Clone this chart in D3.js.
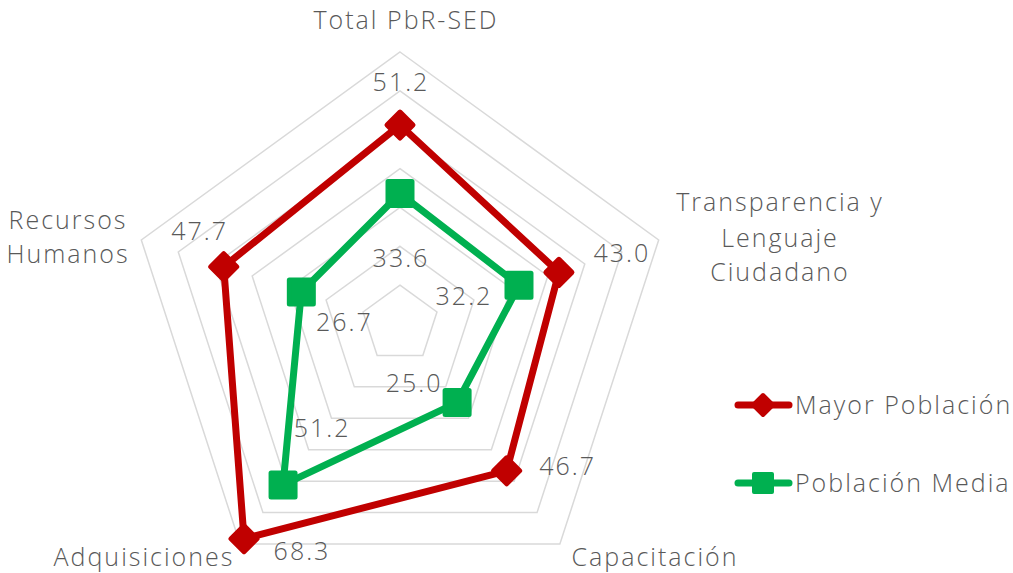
<!DOCTYPE html>
<html>
<head>
<meta charset="utf-8">
<script src="https://cdn.jsdelivr.net/npm/d3@7"></script>
<style>
  body { margin: 0; background: #fff; }
  text { font-family: "Open Sans", "Noto Sans", sans-serif; font-weight: 300; fill: #595959; letter-spacing: 2px; }
</style>
</head>
<body>
<div id="chart"></div>
<script>
var categories = ["Total PbR-SED", "Transparencia y Lenguaje Ciudadano", "Capacitación", "Adquisiciones", "Recursos Humanos"];
var mayorPoblacion = [51.2, 43.0, 46.7, 68.3, 47.7];
var poblacionMedia = [33.6, 32.2, 25.0, 51.2, 26.7];
var gridLevels = [10, 20, 30, 40, 50, 60, 70];

var width = 1013, height = 573;
var cx = 400, cy = 324, radius = 272;

var svg = d3.select("#chart").append("svg")
  .attr("width", width)
  .attr("height", height);

var r = d3.scaleLinear().domain([0, 70]).range([0, radius]);
var angle = d3.scaleLinear().domain([0, categories.length]).range([0, 2 * Math.PI]);

function pt(i, v) {
  var a = angle(i);
  return [cx + Math.sin(a) * r(v), cy - Math.cos(a) * r(v)];
}

var g = svg.append("g");

// grid pentagons
gridLevels.forEach(function(lv) {
  var pts = categories.map(function(c, i) { return pt(i, lv); });
  g.append("path")
    .attr("d", d3.line()(pts) + "Z")
    .attr("fill", "none")
    .attr("stroke", "#d9d9d9")
    .attr("stroke-width", 1.5);
});

var series = [
  {name: "Mayor Población", values: mayorPoblacion, color: "#c00000", marker: "diamond",
   // label offsets from marker (px)
   off: [[0, -43], [62, -19], [60, -5], [57, 13], [-25, -35]]},
  {name: "Población Media", values: poblacionMedia, color: "#00b050", marker: "square",
   off: [[0, 65], [-56, 11], [-44, -19], [38, -57], [42, 30]]}
];

function markerPath(type, s) {
  var h = s / 2;
  if (type === "diamond") return "M0," + (-h) + "L" + h + ",0L0," + h + "L" + (-h) + ",0Z";
  return "M" + (-h) + "," + (-h) + "H" + h + "V" + h + "H" + (-h) + "Z";
}

series.forEach(function(s) {
  var pts = s.values.map(function(v, i) { return pt(i, v); });
  g.append("path")
    .attr("d", d3.line()(pts) + "Z")
    .attr("fill", "none")
    .attr("stroke", s.color)
    .attr("stroke-width", 7)
    .attr("stroke-linejoin", "round");
});

series.forEach(function(s) {
  s.values.forEach(function(v, i) {
    var p = pt(i, v);
    g.append("path")
      .attr("transform", "translate(" + p[0] + "," + p[1] + ")")
      .attr("d", markerPath(s.marker, s.marker === "diamond" ? 26 : 24))
      .attr("fill", s.color)
      .attr("stroke", s.color)
      .attr("stroke-width", 5)
      .attr("stroke-linejoin", "round");
    g.append("text")
      .attr("x", p[0] + s.off[i][0] + 1)
      .attr("y", p[1] + s.off[i][1])
      .attr("dy", "0.35em")
      .attr("text-anchor", "middle")
      .style("font-size", "25px")
      .text(v.toFixed(1));
  });
});

// category labels
var catLabels = [
  {lines: ["Total PbR-SED"], x: 406, y: 20},
  {lines: ["Transparencia y"], x: 780, y: 202},
  {lines: ["Lenguaje", "Ciudadano"], x: 780, y: 238},
  {lines: ["Capacitación"], x: 655, y: 557},
  {lines: ["Adquisiciones"], x: 144, y: 557},
  {lines: ["Recursos", "Humanos"], x: 68, y: 220}
];
catLabels.forEach(function(c) {
  var t = svg.append("text")
    .attr("text-anchor", "middle")
    .style("font-size", "25px");
  c.lines.forEach(function(l, j) {
    t.append("tspan")
      .attr("x", c.x)
      .attr("y", c.y + j * 34)
      .attr("dy", "0.35em")
      .text(l);
  });
});

// legend
var legend = svg.append("g");
series.forEach(function(s, i) {
  var y = 405 + i * 78;
  legend.append("line")
    .attr("x1", 738).attr("x2", 789)
    .attr("y1", y).attr("y2", y)
    .attr("stroke", s.color)
    .attr("stroke-width", 7)
    .attr("stroke-linecap", "round");
  legend.append("path")
    .attr("transform", "translate(763," + y + ")")
    .attr("d", markerPath(s.marker, s.marker === "diamond" ? 20 : 18))
    .attr("fill", s.color)
    .attr("stroke", s.color)
    .attr("stroke-width", 4)
    .attr("stroke-linejoin", "round");
  legend.append("text")
    .attr("x", 795)
    .attr("y", y)
    .attr("dy", "0.35em")
    .style("font-size", "25px")
    .text(s.name);
});
</script>
</body>
</html>
